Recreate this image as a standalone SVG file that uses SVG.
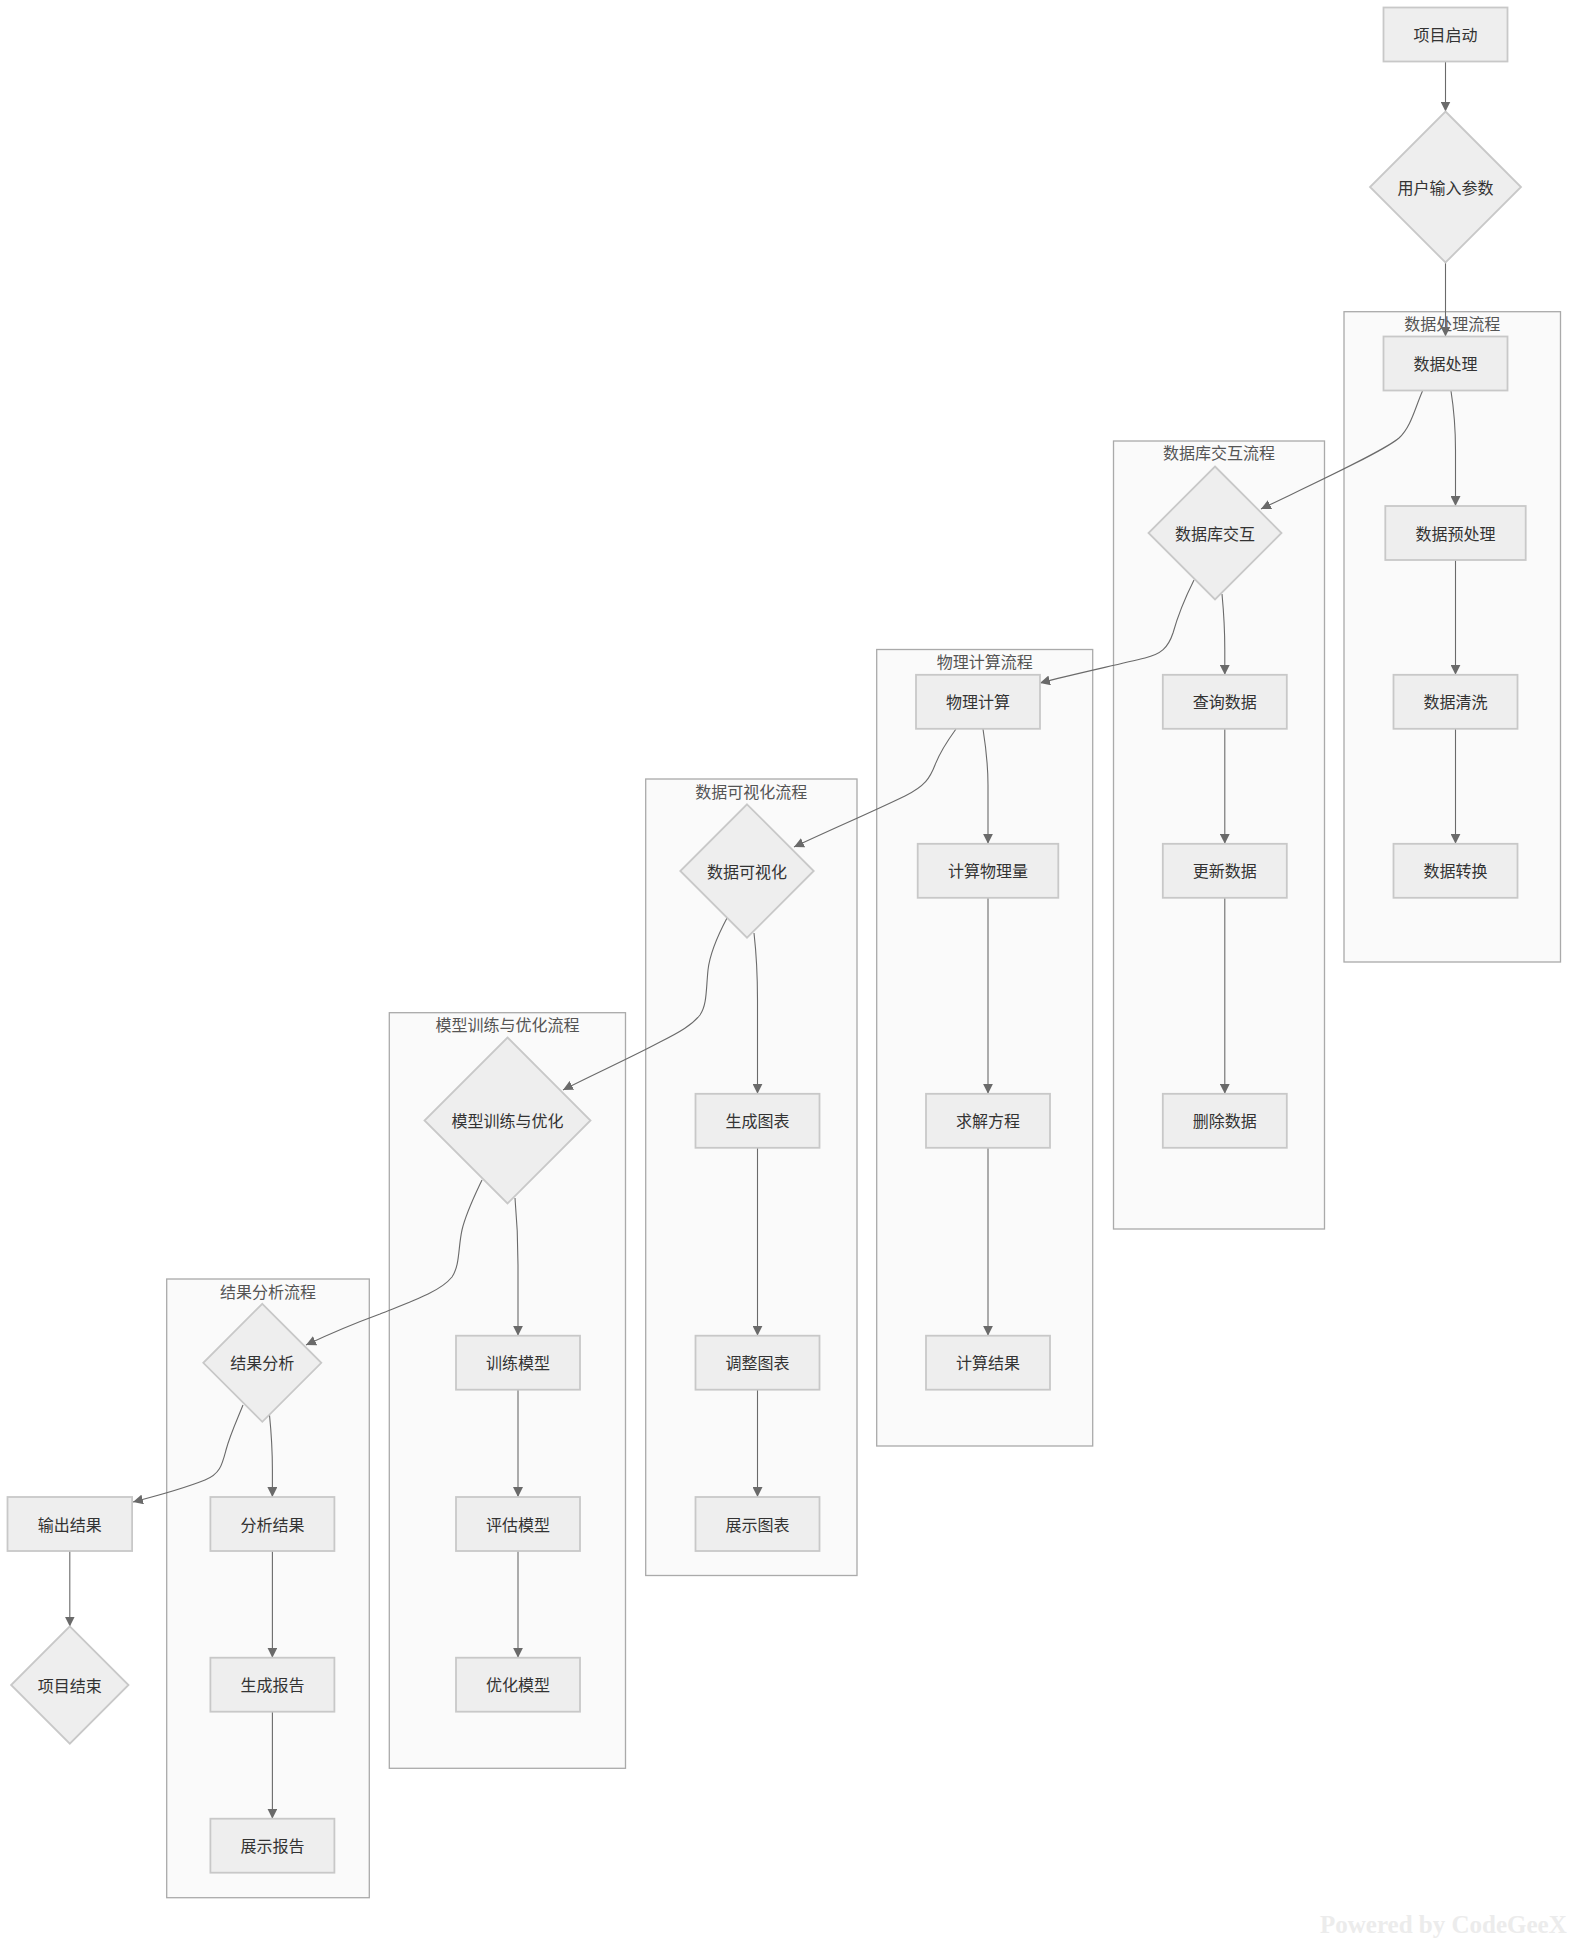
<svg xmlns="http://www.w3.org/2000/svg" width="1569" height="1947" viewBox="0 0 1569 1947">
  <style>
    .cluster rect { fill: #fafafa; stroke: #aaaaaa; stroke-width: 1.3; }
    .cluster text { font-family: "Noto Sans CJK SC", "Liberation Sans", sans-serif; font-size: 16px; fill: #555555; text-anchor: middle; dominant-baseline: central; }
    .node rect, .node polygon { fill: #eeeeee; stroke: #c8c8c8; stroke-width: 1.8; }
    .node text { font-family: "Noto Sans CJK SC", "Liberation Sans", sans-serif; font-size: 16px; fill: #333333; text-anchor: middle; dominant-baseline: central; }
    .edges path { fill: none; stroke: #6a6a6a; stroke-width: 1.1; marker-end: url(#arrow); }
    .mark { font-family: "Liberation Serif", serif; font-weight: bold; font-size: 25px; fill: #ececec; }
  </style>
  <defs>
    <marker id="arrow" viewBox="0 0 10 10" refX="10" refY="5" markerUnits="userSpaceOnUse" markerWidth="10" markerHeight="10" orient="auto">
      <path d="M0,0 L10,5 L0,10 z" fill="#6a6a6a"/>
    </marker>
  </defs>
  <rect width="1569" height="1947" fill="#ffffff"/>

  <!-- subgraph frames -->
  <g id="cluster-data-processing" class="cluster">
    <rect x="1344" y="311.7" width="216.5" height="650.3"/>
    <text x="1452.2" y="323">数据处理流程</text>
  </g>
  <g id="cluster-database" class="cluster">
    <rect x="1113.5" y="441" width="211" height="788"/>
    <text x="1219" y="452">数据库交互流程</text>
  </g>
  <g id="cluster-physics" class="cluster">
    <rect x="876.7" y="649.5" width="216" height="796.5"/>
    <text x="984.7" y="661">物理计算流程</text>
  </g>
  <g id="cluster-visualization" class="cluster">
    <rect x="645.7" y="779" width="211.3" height="796.5"/>
    <text x="751.3" y="790.5">数据可视化流程</text>
  </g>
  <g id="cluster-model" class="cluster">
    <rect x="389.3" y="1012.7" width="236.2" height="755.6"/>
    <text x="507.4" y="1024">模型训练与优化流程</text>
  </g>
  <g id="cluster-results" class="cluster">
    <rect x="166.7" y="1279" width="202.6" height="618.7"/>
    <text x="268" y="1290.5">结果分析流程</text>
  </g>

  <!-- connectors -->
  <g id="edges" class="edges">
    <path d="M1445.5,61.5 L1445.5,111.5"/>
    <path d="M1445.5,262.5 L1445.5,336.5"/>
    <path d="M1422.5,391 C1415,408 1411,427 1399,438 C1383,452 1300,490 1261,509"/>
    <path d="M1451,391 C1454,410 1455.5,430 1455.5,450 L1455.5,506"/>
    <path d="M1455.5,560 L1455.5,674.8"/>
    <path d="M1455.5,728.8 L1455.5,843.8"/>
    <path d="M1194,580 C1185,598 1178,615 1173,633 C1168,648 1161,654 1145,658 C1112,666 1070,675 1040,683"/>
    <path d="M1222,594 C1224,615 1224.8,632 1224.8,650 L1224.8,674.8"/>
    <path d="M1224.8,728.8 L1224.8,843.8"/>
    <path d="M1224.8,897.8 L1224.8,1093.8"/>
    <path d="M956,729 C948,740 940,752 935,765 C930,778 925,786 905,796 C872,812 830,830 794,847"/>
    <path d="M983,729 C986,748 988,765 988,785 L988,843.8"/>
    <path d="M988,897.8 L988,1093.8"/>
    <path d="M988,1147.8 L988,1335.7"/>
    <path d="M727,918 C718,935 710,952 708,970 C706,990 707,1005 700,1015 C692,1025 680,1032 660,1042 C630,1058 590,1076 563,1090"/>
    <path d="M754,933 C756.5,955 757.5,975 757.5,1000 L757.5,1093.8"/>
    <path d="M757.5,1147.8 L757.5,1335.7"/>
    <path d="M757.5,1389.7 L757.5,1497"/>
    <path d="M482,1180 C474,1197 466,1213 462,1230 C458,1248 460,1265 452,1277 C440,1292 410,1302 380,1314 C350,1325 325,1336 306,1345"/>
    <path d="M515,1198 C517,1220 518,1240 518,1265 L518,1335.7"/>
    <path d="M518,1389.7 L518,1497"/>
    <path d="M518,1551 L518,1657.7"/>
    <path d="M243,1405 C237,1420 230,1435 226,1450 C222,1465 220,1474 205,1480 C185,1488 160,1495 133,1502"/>
    <path d="M269.5,1415 C271.5,1435 272.4,1450 272.4,1470 L272.4,1497"/>
    <path d="M272.4,1551 L272.4,1657.7"/>
    <path d="M272.4,1711.7 L272.4,1818.7"/>
    <path d="M69.8,1551 L69.8,1626.5"/>
  </g>

  <!-- nodes -->
  <g id="node-start" class="node">
    <rect x="1383.5" y="7.5" width="124" height="54"/>
    <text x="1445.5" y="34">项目启动</text>
  </g>
  <g id="node-input" class="node">
    <polygon points="1445.5,111.5 1521,187 1445.5,262.5 1370,187"/>
    <text x="1445.5" y="186.5">用户输入参数</text>
  </g>
  <g id="node-process" class="node">
    <rect x="1383.5" y="336.5" width="124" height="54"/>
    <text x="1445.5" y="363">数据处理</text>
  </g>
  <g id="node-preprocess" class="node">
    <rect x="1385.3" y="506" width="140.4" height="54"/>
    <text x="1455.5" y="532.5">数据预处理</text>
  </g>
  <g id="node-clean" class="node">
    <rect x="1393.5" y="674.8" width="124" height="54"/>
    <text x="1455.5" y="701.3">数据清洗</text>
  </g>
  <g id="node-transform" class="node">
    <rect x="1393.5" y="843.8" width="124" height="54"/>
    <text x="1455.5" y="870.3">数据转换</text>
  </g>
  <g id="node-database" class="node">
    <polygon points="1215,466.5 1281.5,533 1215,599.5 1148.5,533"/>
    <text x="1215" y="532.5">数据库交互</text>
  </g>
  <g id="node-query" class="node">
    <rect x="1162.8" y="674.8" width="124" height="54"/>
    <text x="1224.8" y="701.3">查询数据</text>
  </g>
  <g id="node-update" class="node">
    <rect x="1162.8" y="843.8" width="124" height="54"/>
    <text x="1224.8" y="870.3">更新数据</text>
  </g>
  <g id="node-delete" class="node">
    <rect x="1162.8" y="1093.8" width="124" height="54"/>
    <text x="1224.8" y="1120.3">删除数据</text>
  </g>
  <g id="node-physics" class="node">
    <rect x="916" y="674.8" width="124" height="54"/>
    <text x="978" y="701.3">物理计算</text>
  </g>
  <g id="node-quantity" class="node">
    <rect x="917.7" y="843.8" width="140.6" height="54"/>
    <text x="988" y="870.3">计算物理量</text>
  </g>
  <g id="node-solve" class="node">
    <rect x="926" y="1093.8" width="124" height="54"/>
    <text x="988" y="1120.3">求解方程</text>
  </g>
  <g id="node-calc-result" class="node">
    <rect x="926" y="1335.7" width="124" height="54"/>
    <text x="988" y="1362.2">计算结果</text>
  </g>
  <g id="node-visualize" class="node">
    <polygon points="747,804.3 813.7,871 747,937.7 680.3,871"/>
    <text x="747" y="870.5">数据可视化</text>
  </g>
  <g id="node-chart" class="node">
    <rect x="695.5" y="1093.8" width="124" height="54"/>
    <text x="757.5" y="1120.3">生成图表</text>
  </g>
  <g id="node-adjust" class="node">
    <rect x="695.5" y="1335.7" width="124" height="54"/>
    <text x="757.5" y="1362.2">调整图表</text>
  </g>
  <g id="node-show-chart" class="node">
    <rect x="695.5" y="1497" width="124" height="54"/>
    <text x="757.5" y="1523.5">展示图表</text>
  </g>
  <g id="node-model" class="node">
    <polygon points="507.5,1037.5 590.5,1120.5 507.5,1203.5 424.5,1120.5"/>
    <text x="507.5" y="1120">模型训练与优化</text>
  </g>
  <g id="node-train" class="node">
    <rect x="456" y="1335.7" width="124" height="54"/>
    <text x="518" y="1362.2">训练模型</text>
  </g>
  <g id="node-evaluate" class="node">
    <rect x="456" y="1497" width="124" height="54"/>
    <text x="518" y="1523.5">评估模型</text>
  </g>
  <g id="node-optimize" class="node">
    <rect x="456" y="1657.7" width="124" height="54"/>
    <text x="518" y="1684.2">优化模型</text>
  </g>
  <g id="node-analysis" class="node">
    <polygon points="262.3,1303.8 321.3,1362.8 262.3,1421.8 203.3,1362.8"/>
    <text x="262.3" y="1362.3">结果分析</text>
  </g>
  <g id="node-analyze" class="node">
    <rect x="210.4" y="1497" width="124" height="54"/>
    <text x="272.4" y="1523.5">分析结果</text>
  </g>
  <g id="node-report" class="node">
    <rect x="210.4" y="1657.7" width="124" height="54"/>
    <text x="272.4" y="1684.2">生成报告</text>
  </g>
  <g id="node-show-report" class="node">
    <rect x="210.4" y="1818.7" width="124" height="54"/>
    <text x="272.4" y="1845.2">展示报告</text>
  </g>
  <g id="node-output" class="node">
    <rect x="7.5" y="1497" width="124.6" height="54"/>
    <text x="69.8" y="1523.5">输出结果</text>
  </g>
  <g id="node-end" class="node">
    <polygon points="69.8,1626.3 128.5,1685 69.8,1743.7 11.1,1685"/>
    <text x="69.8" y="1684.5">项目结束</text>
  </g>

  <text class="mark" x="1320" y="1933">Powered by CodeGeeX</text>
</svg>
